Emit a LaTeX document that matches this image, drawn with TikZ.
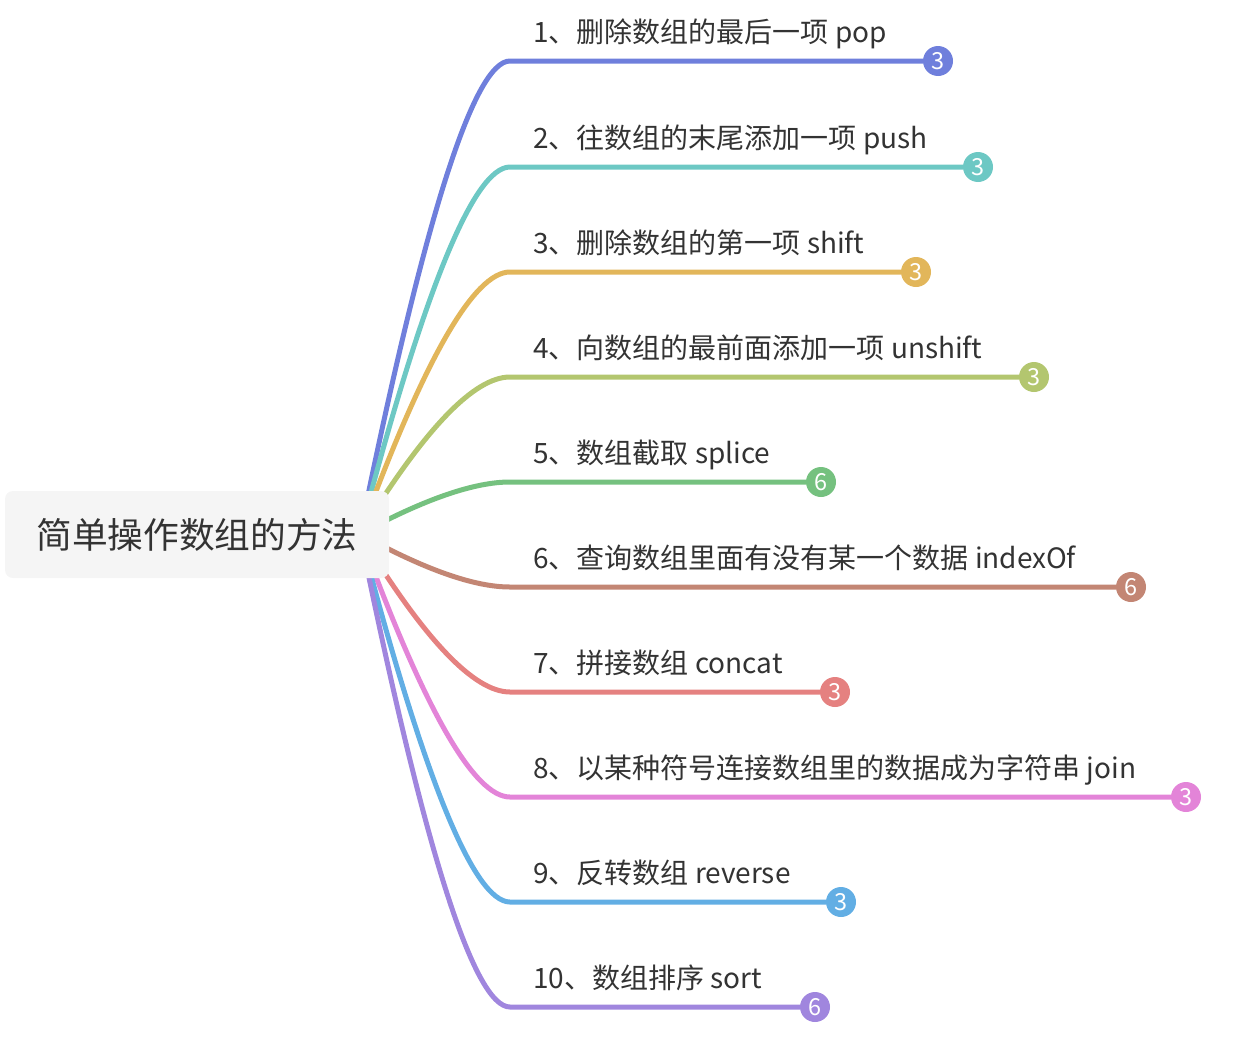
\documentclass[tikz,border=0pt]{standalone}
\usepackage{fontspec}
\setmainfont{Noto Sans CJK SC}
\usepackage{xcolor}
\usetikzlibrary{positioning}

\definecolor{textgray}{HTML}{333333}
\definecolor{rootgray}{HTML}{F5F5F5}
\definecolor{bpop}{HTML}{6F7FDC}
\definecolor{bpush}{HTML}{6DC8C4}
\definecolor{bshift}{HTML}{E2B65A}
\definecolor{bunshift}{HTML}{B3C66F}
\definecolor{bsplice}{HTML}{75C17F}
\definecolor{bindex}{HTML}{C38674}
\definecolor{bconcat}{HTML}{E58180}
\definecolor{bjoin}{HTML}{E384D8}
\definecolor{breverse}{HTML}{62AEE4}
\definecolor{bsort}{HTML}{A086DE}

\begin{document}
\begin{tikzpicture}[x=1pt,y=-1pt,
    rootbox/.style={fill=rootgray, rounded corners=8pt, minimum width=384pt, minimum height=87pt,
        inner sep=0pt, text=textgray, font=\fontsize{35.7}{36}\selectfont},
    branch/.style={line width=5pt, line cap=round},
    leaf/.style={anchor=base west, inner sep=0pt, text=textgray, font=\fontsize{28}{28}\selectfont},
    badge/.style={circle, minimum size=30pt, inner sep=0pt, text=white, font=\fontsize{23.5}{24}\selectfont}]
                \useasboundingbox (0,0) rectangle (1238,1044);
                % Hub behind the root box
                \coordinate (hub) at (360,534);
                % Line starts
                \coordinate (e1) at (510,61);
                \coordinate (e2) at (510,167);
                \coordinate (e3) at (510,272);
                \coordinate (e4) at (510,377);
                \coordinate (e5) at (510,482);
                \coordinate (e6) at (510,587);
                \coordinate (e7) at (510,692);
                \coordinate (e8) at (510,797);
                \coordinate (e9) at (510,902);
                \coordinate (e10) at (510,1007);
                % Counters
                \node[badge, fill=bpop] (n1) at (938,61) {3};
                \node[badge, fill=bpush] (n2) at (978,167) {3};
                \node[badge, fill=bshift] (n3) at (916,272) {3};
                \node[badge, fill=bunshift] (n4) at (1034,377) {3};
                \node[badge, fill=bsplice] (n5) at (821,482) {6};
                \node[badge, fill=bindex] (n6) at (1131,587) {6};
                \node[badge, fill=bconcat] (n7) at (835,692) {3};
                \node[badge, fill=bjoin] (n8) at (1186,797) {3};
                \node[badge, fill=breverse] (n9) at (841,902) {3};
                \node[badge, fill=bsort] (n10) at (815,1007) {6};
                % Branches
                \draw[branch, bpop] (hub) .. controls (424,218.7) and (474,61) .. (e1) -- (n1);
                \draw[branch, bpush] (hub) .. controls (424,289.3) and (474,167) .. (e2) -- (n2);
                \draw[branch, bshift] (hub) .. controls (424,359.3) and (474,272) .. (e3) -- (n3);
                \draw[branch, bunshift] (hub) .. controls (424,429.3) and (474,377) .. (e4) -- (n4);
                \draw[branch, bsplice] (hub) .. controls (424,499.3) and (474,482) .. (e5) -- (n5);
                \draw[branch, bindex] (hub) .. controls (424,569.3) and (474,587) .. (e6) -- (n6);
                \draw[branch, bconcat] (hub) .. controls (424,639.3) and (474,692) .. (e7) -- (n7);
                \draw[branch, bjoin] (hub) .. controls (424,709.3) and (474,797) .. (e8) -- (n8);
                \draw[branch, breverse] (hub) .. controls (424,779.3) and (474,902) .. (e9) -- (n9);
                \draw[branch, bsort] (hub) .. controls (424,849.3) and (474,1007) .. (e10) -- (n10);
                % Root
                \node[rootbox] (root) at (197,534.5) {简单操作数组的方法};
                % Labels
                \node[leaf] (l1) at (533,42) {1、删除数组的最后一项 pop};
                \node[leaf] (l2) at (533,148) {2、往数组的末尾添加一项 push};
                \node[leaf] (l3) at (533,253) {3、删除数组的第一项 shift};
                \node[leaf] (l4) at (533,358) {4、向数组的最前面添加一项 unshift};
                \node[leaf] (l5) at (533,463) {5、数组截取 splice};
                \node[leaf] (l6) at (533,568) {6、查询数组里面有没有某一个数据 indexOf};
                \node[leaf] (l7) at (533,673) {7、拼接数组 concat};
                \node[leaf] (l8) at (533,778) {8、以某种符号连接数组里的数据成为字符串 join};
                \node[leaf] (l9) at (533,883) {9、反转数组 reverse};
                \node[leaf] (l10) at (533,988) {10、数组排序 sort};
            \end{tikzpicture}
\end{document}
